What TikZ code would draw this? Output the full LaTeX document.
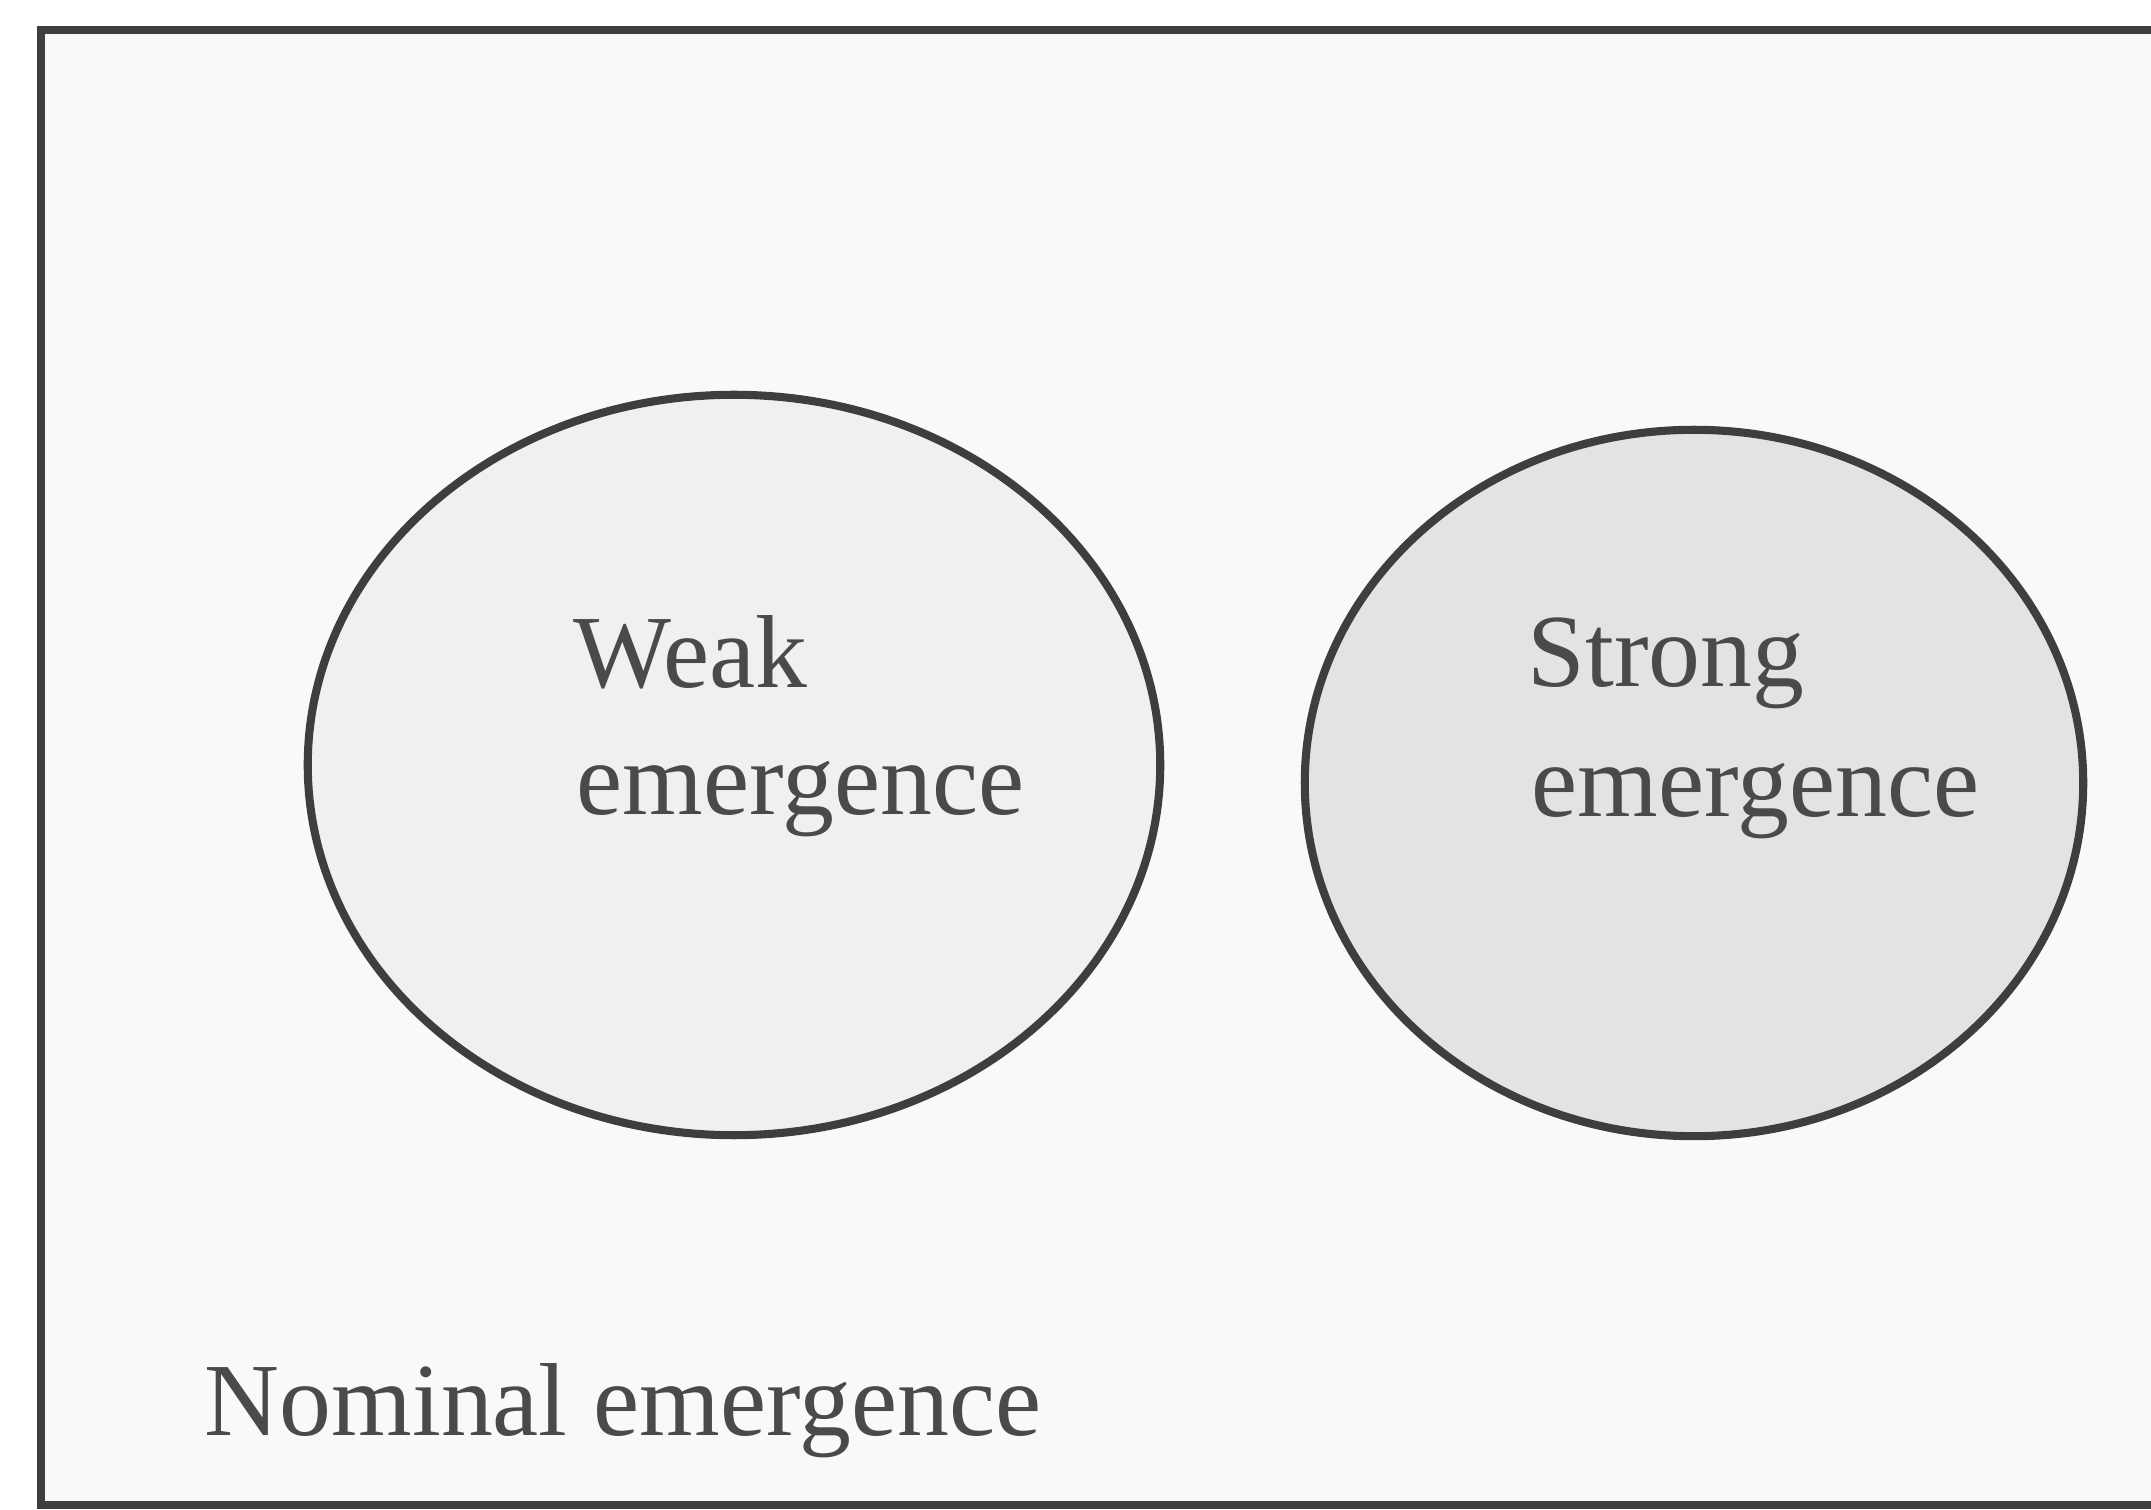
\documentclass[tikz,border=0pt]{standalone}
\usepackage{fontspec}
\setmainfont{Liberation Serif}
\usetikzlibrary{shapes.geometric}
\definecolor{linegray}{HTML}{3E3E3E}
\definecolor{textgray}{HTML}{4A4A4A}
\definecolor{boxfill}{HTML}{F9F9F9}
\definecolor{weakfill}{HTML}{F0F0F0}
\definecolor{strongfill}{HTML}{E3E3E3}
\tikzset{
  blob/.style={ellipse, draw=linegray, line width=2.3pt, inner sep=0pt},
  label/.style={anchor=base west, inner sep=0pt, text=textgray,
    font=\fontsize{29.5pt}{36pt}\selectfont},
}
\begin{document}
\begin{tikzpicture}[x=0.01cm, y=-0.01cm]
\useasboundingbox (0,0) rectangle (2151,1510);
\fill[white] (0,0) rectangle (2151,1510);
% outer frame (its right side lies beyond the picture)
\coordinate (tr) at (2151,30);
\coordinate (tl) at (41,30);
\coordinate (bl) at (41,1505);
\coordinate (br) at (2151,1505);
\fill[boxfill] (tl) rectangle (br);
\draw[linegray, line width=2.5pt] (tr) -- (tl) -- (bl) -- (br);
% ellipses
\node[blob, fill=weakfill, minimum width=8.52cm, minimum height=7.40cm] (weak) at (734,765) {};
\node[blob, fill=strongfill, minimum width=7.78cm, minimum height=7.06cm] (strong) at (1694,783) {};
% labels
\node[label] (weak1) at (573,688) {Weak};
\node[label] (weak2) at (576,815) {emergence};
\node[label] (strong1) at (1527,687) {Strong};
\node[label] (strong2) at (1531,817) {emergence};
\node[label] (nominal) at (204,1435) {Nominal emergence};
\end{tikzpicture}
\end{document}
